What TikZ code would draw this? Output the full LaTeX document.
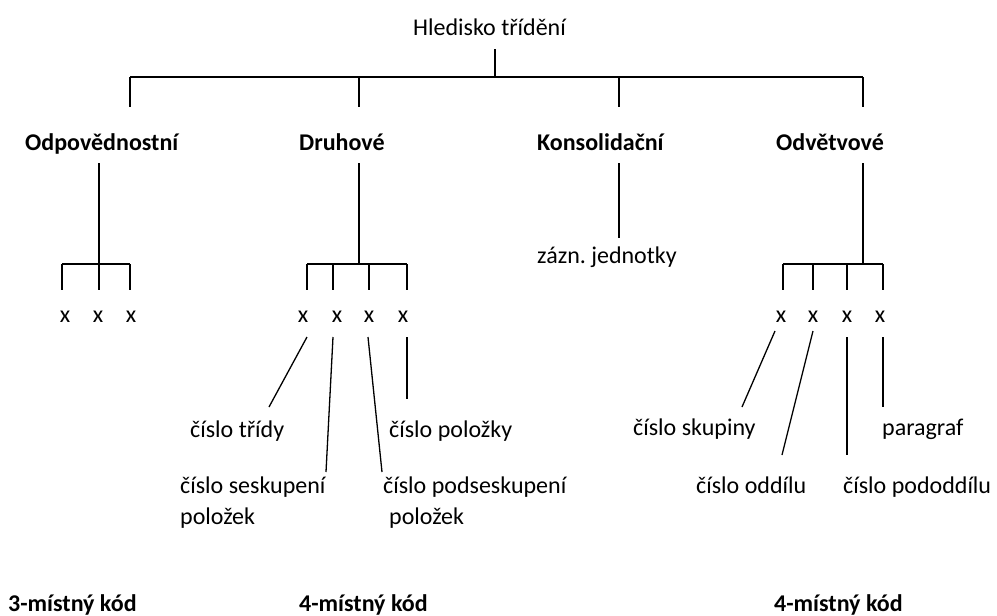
\documentclass[tikz,border=0pt]{standalone}
\usepackage{fontspec}
\setmainfont{Carlito}
\usepackage{tikz}
\usetikzlibrary{positioning}

\begin{document}
\begin{tikzpicture}[x=1pt, y=-1pt,
  lbl/.style={font=\fontsize{24}{29}\selectfont, inner sep=0pt, text height=16pt, text depth=6pt, anchor=base west},
  cat/.style={lbl, font=\bfseries\fontsize{24}{29}\selectfont},
  digit/.style={lbl, anchor=base},
  tree/.style={draw, line width=2pt},
  lead/.style={draw, line width=1.3pt}]

  \useasboundingbox (0,0) rectangle (997,616);

  % texts
  \node [lbl] (hl) at (413,35) {Hledisko třídění};
  \node [cat] (odp) at (25,150) {Odpovědnostní};
  \node [cat] (dru) at (299,150) {Druhové};
  \node [cat] (kon) at (537,150) {Konsolidační};
  \node [cat] (odv) at (776,150) {Odvětvové};
  \node [lbl] (zaz) at (537,263) {zázn.\ jednotky};

  \node [digit] (a1) at (65,322) {x};
  \node [digit] (a2) at (98,322) {x};
  \node [digit] (a3) at (131,322) {x};
  \node [digit] (d1) at (303,322) {x};
  \node [digit] (d2) at (337,322) {x};
  \node [digit] (d3) at (369,322) {x};
  \node [digit] (d4) at (403,322) {x};
  \node [digit] (v1) at (781,322) {x};
  \node [digit] (v2) at (813,322) {x};
  \node [digit] (v3) at (847,322) {x};
  \node [digit] (v4) at (880,322) {x};

  \node [lbl] (tri) at (190,437) {číslo třídy};
  \node [lbl] (pol) at (389,437) {číslo položky};
  \node [lbl] (ses) at (180,493) {číslo seskupení};
  \node [lbl] (ses2) at (180,524) {položek};
  \node [lbl] (pds) at (383,493) {číslo podseskupení};
  \node [lbl] (pds2) at (389,524) {položek};
  \node [lbl] (sku) at (633,435) {číslo skupiny};
  \node [lbl] (par) at (882,435) {paragraf};
  \node [lbl] (odd) at (696,493) {číslo oddílu};
  \node [lbl] (pod) at (843,493) {číslo pododdílu};

  \node [cat] (k3) at (8,611) {3-místný kód};
  \node [cat] (k4a) at (299,611) {4-místný kód};
  \node [cat] (k4b) at (774,611) {4-místný kód};

  % junctions
  \coordinate (j0) at (495,77);
  \coordinate (b1) at (130,77);
  \coordinate (b2) at (358.5,77);
  \coordinate (b3) at (619,77);
  \coordinate (b4) at (863,77);
  \coordinate (c1) at (98.5,264);
  \coordinate (c2) at (358.5,264);
  \coordinate (c3) at (619,238);
  \coordinate (c4) at (863,264);
  \coordinate (sa1) at (62,264);
  \coordinate (sa3) at (130,264);
  \coordinate (sd1) at (307,264);
  \coordinate (sd2) at (333,264);
  \coordinate (sd3) at (369,264);
  \coordinate (sd4) at (407,264);
  \coordinate (sv1) at (783,264);
  \coordinate (sv2) at (813,264);
  \coordinate (sv3) at (847,264);
  \coordinate (sv4) at (883,264);

  % leader ends
  \coordinate (ld1) at (307,337);
  \coordinate (ld2) at (333,337);
  \coordinate (ld3) at (368,337);
  \coordinate (ld4) at (407,337);
  \coordinate (et1) at (269,407);
  \coordinate (et2) at (326,472);
  \coordinate (et3) at (382,472);
  \coordinate (et4) at (407,399);
  \coordinate (lv1) at (775,331);
  \coordinate (lv2) at (813,331);
  \coordinate (lv3) at (847,337);
  \coordinate (lv4) at (883,337);
  \coordinate (ev1) at (742,407);
  \coordinate (ev2) at (782,455);
  \coordinate (ev3) at (847,455);
  \coordinate (ev4) at (883,407);

  % top level
  \draw [tree, shorten <=8pt] (hl.south -| j0) -- (j0);
  \draw [tree] (b1) -- (b4);
  \draw [tree, shorten >=27pt] (b1) -- (b1 |- odp.north);
  \draw [tree, shorten >=27pt] (b2) -- (b2 |- dru.north);
  \draw [tree, shorten >=27pt] (b3) -- (b3 |- kon.north);
  \draw [tree, shorten >=27pt] (b4) -- (b4 |- odv.north);

  % categories
  \draw [tree, shorten <=7pt] (odp.south -| c1) -- (c1);
  \draw [tree, shorten <=7pt] (dru.south -| c2) -- (c2);
  \draw [tree, shorten <=7pt] (kon.south -| c3) -- (c3);
  \draw [tree, shorten <=7pt] (odv.south -| c4) -- (c4);

  % positions
  \draw [tree] (sa1) -- (sa3);
  \draw [tree, shorten >=16pt] (sa1) -- (sa1 |- a1.north);
  \draw [tree, shorten >=16pt] (c1) -- (c1 |- a2.north);
  \draw [tree, shorten >=16pt] (sa3) -- (sa3 |- a3.north);

  \draw [tree] (sd1) -- (sd4);
  \draw [tree, shorten >=16pt] (sd1) -- (sd1 |- d1.north);
  \draw [tree, shorten >=16pt] (sd2) -- (sd2 |- d2.north);
  \draw [tree, shorten >=16pt] (sd3) -- (sd3 |- d3.north);
  \draw [tree, shorten >=16pt] (sd4) -- (sd4 |- d4.north);

  \draw [tree] (sv1) -- (sv4);
  \draw [tree, shorten >=16pt] (sv1) -- (sv1 |- v1.north);
  \draw [tree, shorten >=16pt] (sv2) -- (sv2 |- v2.north);
  \draw [tree, shorten >=16pt] (sv3) -- (sv3 |- v3.north);
  \draw [tree, shorten >=16pt] (sv4) -- (sv4 |- v4.north);

  % leaders
  \draw [lead] (ld1) -- (et1);
  \draw [lead] (ld2) -- (et2);
  \draw [lead] (ld3) -- (et3);
  \draw [lead] (ld4) -- (et4);
  \draw [lead] (lv1) -- (ev1);
  \draw [lead] (lv2) -- (ev2);
  \draw [lead] (lv3) -- (ev3);
  \draw [lead] (lv4) -- (ev4);
\end{tikzpicture}
\end{document}
